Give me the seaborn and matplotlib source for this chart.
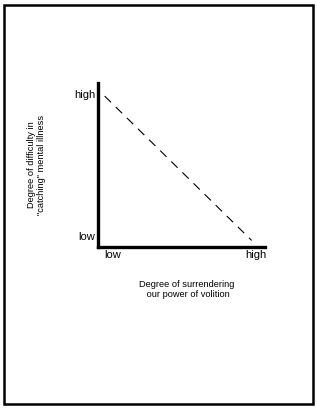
import matplotlib
matplotlib.use("Agg")
import pandas as pd
import seaborn as sns
from matplotlib import pyplot as plt
from matplotlib.patches import Rectangle

# conceptual relation: more surrender of volition -> less difficulty
surrender = [0.04, 0.92]
difficulty = [0.92, 0.04]
x_ticks = [0.09, 0.945]
x_tick_labels = ["low", "high"]
y_ticks = [0.07, 0.93]
y_tick_labels = ["low", "high"]

sns.set_style("white")
plt.rcParams["font.family"] = ["Liberation Sans", "DejaVu Sans"]
plt.rcParams["text.color"] = "black"
plt.rcParams["xtick.color"] = "black"
plt.rcParams["ytick.color"] = "black"
plt.rcParams["axes.labelcolor"] = "black"

fig = plt.figure(figsize=(3.17, 4.09), dpi=100)
ax = fig.add_axes([98 / 317, 162 / 409, 167 / 317, 164 / 409])

df = pd.DataFrame({"x": surrender, "y": difficulty})
sns.lineplot(data=df, x="x", y="y", ax=ax, color="black", lw=0.8,
             linestyle=(0, (8, 6)))

ax.set_xlim(0, 1)
ax.set_ylim(0, 1)
ax.set_xticks(x_ticks, x_tick_labels, fontsize=8)
ax.set_yticks(y_ticks, y_tick_labels, fontsize=8)
ax.tick_params(length=0, pad=2)
ax.set_xlabel("Degree of surrendering\n our power of volition", fontsize=6.7)
ax.xaxis.set_label_coords(0.53, -0.2)
ax.set_ylabel("Degree of difficulty in\n\"catching\" mental illness", fontsize=6.7)
ax.yaxis.set_label_coords(-0.31, 0.5)
sns.despine(ax=ax)
for side in ["left", "bottom"]:
    ax.spines[side].set_linewidth(2.4)
    ax.spines[side].set_color("black")

fig.patches.append(Rectangle((4 / 317, 5 / 409), 309 / 317, 399 / 409,
                             transform=fig.transFigure, fill=False,
                             edgecolor="black", lw=1.8))

plt.savefig("out.png", dpi=100)
